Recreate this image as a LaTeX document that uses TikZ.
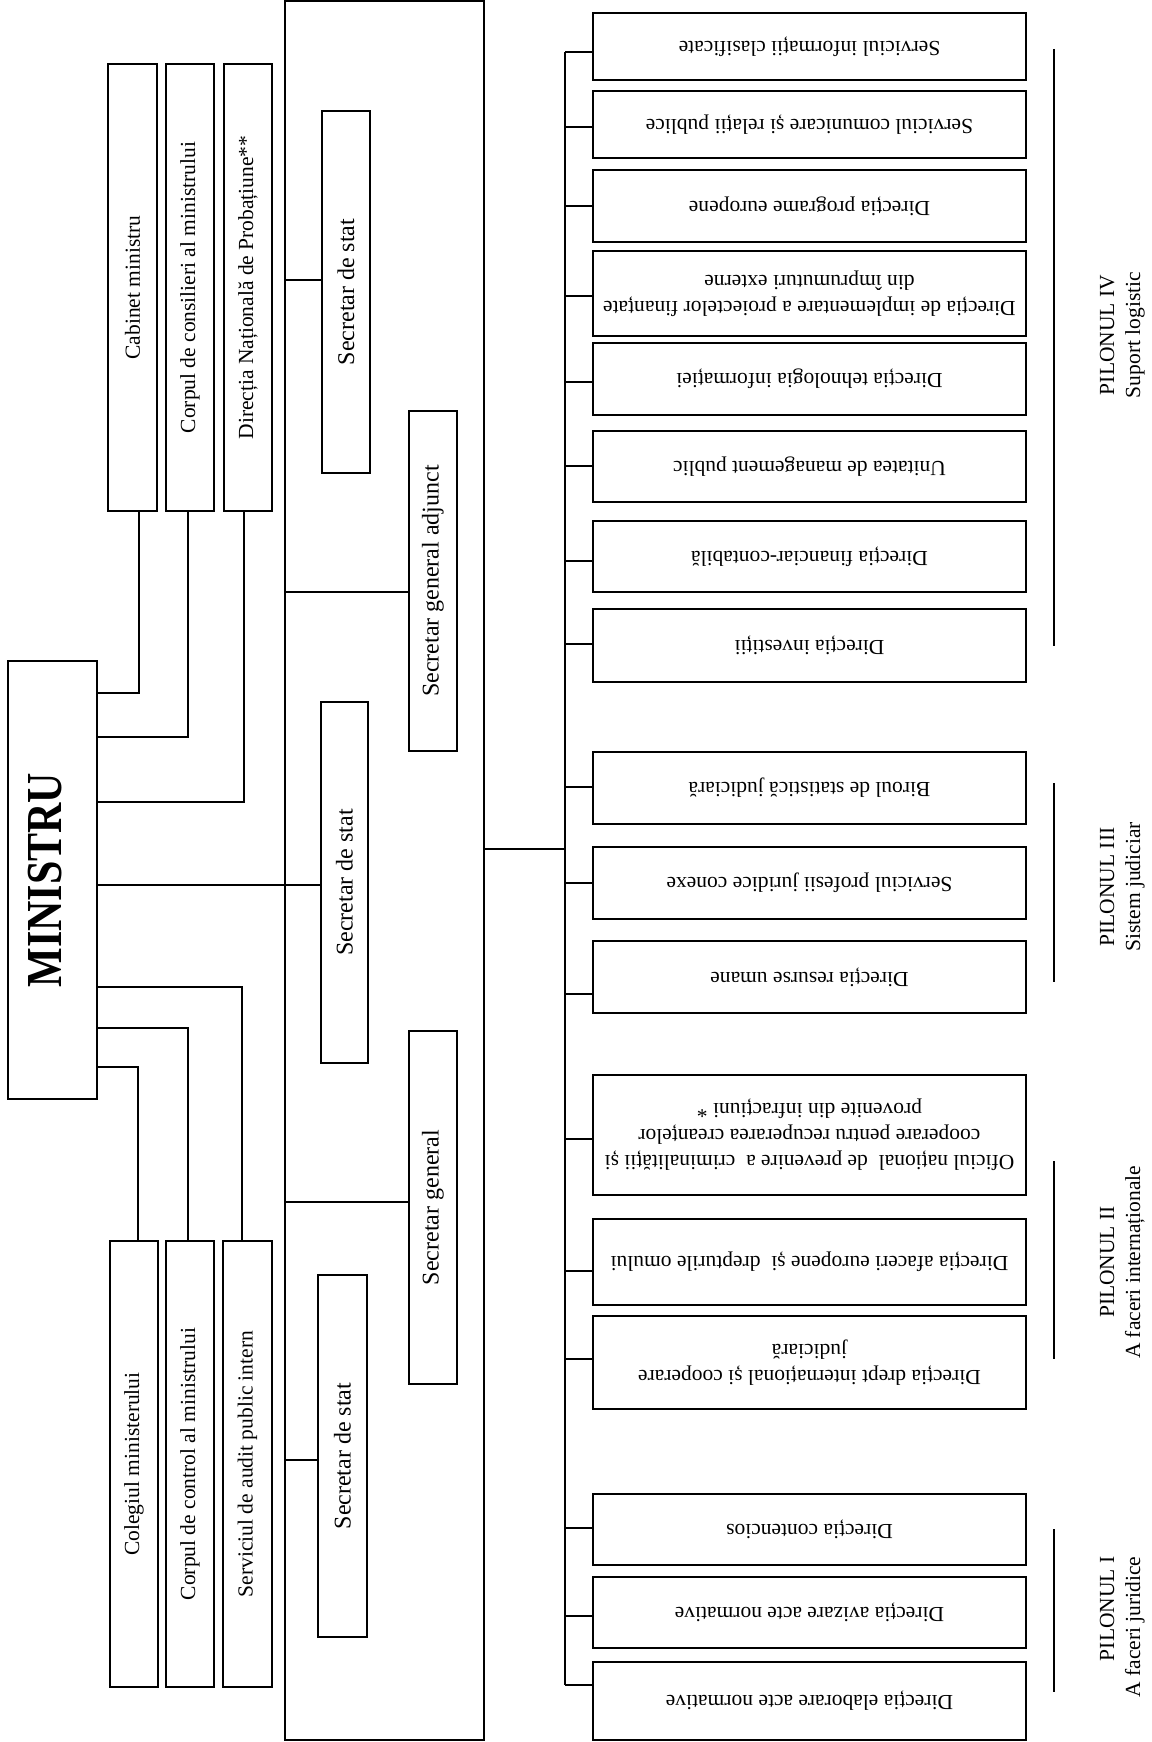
\documentclass[tikz,border=0pt]{standalone}
\usepackage{fontspec}
\setmainfont{Liberation Serif}

\begin{document}
\begin{tikzpicture}[x=1pt, y=-1pt,
    box/.style={draw, line width=1.3pt, inner sep=0pt, font=\fontsize{21.5}{26}\selectfont},
    secbox/.style={box, font=\fontsize{24}{28}\selectfont},
    dirbox/.style={box, minimum width=433},
    link/.style={line width=1.3pt},
    pillar/.style={font=\fontsize{21.5}{26}\selectfont}]
    \useasboundingbox (0,0) rectangle (1151,1742);

    \node [box, minimum width=89, minimum height=438] (min) at (52.5, 880) {\rotatebox{90}{\scalebox{1}[1.2]{\fontsize{42}{50}\selectfont\bfseries MINISTRU}}\hspace*{14pt}};

    \node [box, minimum width=49, minimum height=447] (cab) at (132.5, 287.5) {\rotatebox{90}{Cabinet ministru}};
    \node [box, minimum width=48, minimum height=447] (cons) at (190, 287.5) {\rotatebox{90}{Corpul de consilieri al ministrului}};
    \node [box, minimum width=48, minimum height=447] (dnp) at (248, 287.5) {\rotatebox{90}{Direcția Națională de Probațiune**}};
    \node [box, minimum width=48, minimum height=446] (col) at (134, 1464) {\rotatebox{90}{Colegiul ministerului}};
    \node [box, minimum width=48, minimum height=446] (ctrl) at (190, 1464) {\rotatebox{90}{Corpul de control al ministrului}};
    \node [box, minimum width=49, minimum height=446] (audit) at (247.5, 1464) {\rotatebox{90}{Serviciul de audit public intern}};

    \node [box, minimum width=199, minimum height=1739] (big) at (384.5, 870.5) {};
    \node [secbox, minimum width=48, minimum height=362] (sst) at (346, 292) {\rotatebox{90}{Secretar de stat}};
    \node [secbox, minimum width=48, minimum height=340] (sga) at (433, 581) {\rotatebox{90}{Secretar general adjunct}};
    \node [secbox, minimum width=47, minimum height=361] (ssm) at (344.5, 882.5) {\rotatebox{90}{Secretar de stat}};
    \node [secbox, minimum width=48, minimum height=353] (sg) at (433, 1207.5) {\rotatebox{90}{Secretar general}};
    \node [secbox, minimum width=49, minimum height=362] (ssb) at (342.5, 1456) {\rotatebox{90}{Secretar de stat}};

    \draw [link] (cab.south -| 139,0) |- (min.east |- 0,693);
    \draw [link] (cons.south -| 188,0) |- (min.east |- 0,737);
    \draw [link] (dnp.south -| 244,0) |- (min.east |- 0,802);
    \draw [link] (min.east |- 0,885) -- (ssm.west |- 0,885);
    \draw [link] (audit.north -| 242,0) |- (min.east |- 0,987);
    \draw [link] (ctrl.north -| 188,0) |- (min.east |- 0,1028);
    \draw [link] (col.north -| 138,0) |- (min.east |- 0,1067);

    \draw [link] (big.west |- 0,280) -- (sst.west |- 0,280);
    \draw [link] (big.west |- 0,592) -- (sga.west |- 0,592);
    \draw [link] (big.west |- 0,1202) -- (sg.west |- 0,1202);
    \draw [link] (big.west |- 0,1460) -- (ssb.west |- 0,1460);

    \node [dirbox, minimum height=67] (b1) at (809.5, 46.5) {\rotatebox{180}{Serviciul informații clasificate}};
    \node [dirbox, minimum height=67] (b2) at (809.5, 124.5) {\rotatebox{180}{Serviciul comunicare și relații publice}};
    \node [dirbox, minimum height=72] (b3) at (809.5, 206) {\rotatebox{180}{Direcția programe europene}};
    \node [dirbox, minimum height=85] (b4) at (809.5, 293.5) {\rotatebox{180}{\begin{tabular}{@{}c@{}}Direcția de implementare a proiectelor finanțate\\din împrumuturi externe\end{tabular}}};
    \node [dirbox, minimum height=72] (b5) at (809.5, 379) {\rotatebox{180}{Direcția tehnologia informației}};
    \node [dirbox, minimum height=71] (b6) at (809.5, 466.5) {\rotatebox{180}{Unitatea de management public}};
    \node [dirbox, minimum height=71] (b7) at (809.5, 556.5) {\rotatebox{180}{Direcția financiar-contabilă}};
    \node [dirbox, minimum height=73] (b8) at (809.5, 645.5) {\rotatebox{180}{Direcția investiții}};
    \node [dirbox, minimum height=72] (b9) at (809.5, 788) {\rotatebox{180}{Biroul de statistică judiciară}};
    \node [dirbox, minimum height=72] (b10) at (809.5, 883) {\rotatebox{180}{Serviciul profesii juridice conexe}};
    \node [dirbox, minimum height=72] (b11) at (809.5, 977) {\rotatebox{180}{Direcția resurse umane}};
    \node [dirbox, minimum height=120] (b12) at (809.5, 1135) {\rotatebox{180}{\begin{tabular}{@{}c@{}}Oficiul național\ \ de prevenire a\ \ criminalității și\\cooperare pentru recuperarea creanțelor\\provenite din infracțiuni *\end{tabular}}};
    \node [dirbox, minimum height=86] (b13) at (809.5, 1262) {\rotatebox{180}{Direcția afaceri europene și\ \ drepturile omului}};
    \node [dirbox, minimum height=93] (b14) at (809.5, 1362.5) {\rotatebox{180}{\begin{tabular}{@{}c@{}}Direcția drept internațional și cooperare\\judiciară\end{tabular}}};
    \node [dirbox, minimum height=71] (b15) at (809.5, 1529.5) {\rotatebox{180}{Direcția contencios}};
    \node [dirbox, minimum height=71] (b16) at (809.5, 1612.5) {\rotatebox{180}{Direcția avizare acte normative}};
    \node [dirbox, minimum height=78] (b17) at (809.5, 1701) {\rotatebox{180}{Direcția elaborare acte normative}};

    \coordinate (ttop) at (565, 52);
    \coordinate (tbot) at (565, 1685);
    \draw [link] (ttop) -- (tbot);
    \draw [link] (big.east |- 0,849) -- (ttop |- 0,849);

    \draw [link] (ttop) -- (b1.west |- ttop);
    \draw [link] (ttop |- 0,127) -- (b2.west |- 0,127);
    \draw [link] (ttop |- 0,206) -- (b3.west |- 0,206);
    \draw [link] (ttop |- 0,296) -- (b4.west |- 0,296);
    \draw [link] (ttop |- 0,382) -- (b5.west |- 0,382);
    \draw [link] (ttop |- 0,466) -- (b6.west |- 0,466);
    \draw [link] (ttop |- 0,561) -- (b7.west |- 0,561);
    \draw [link] (ttop |- 0,644) -- (b8.west |- 0,644);
    \draw [link] (ttop |- 0,787) -- (b9.west |- 0,787);
    \draw [link] (ttop |- 0,883) -- (b10.west |- 0,883);
    \draw [link] (ttop |- 0,994) -- (b11.west |- 0,994);
    \draw [link] (ttop |- 0,1139) -- (b12.west |- 0,1139);
    \draw [link] (ttop |- 0,1271) -- (b13.west |- 0,1271);
    \draw [link] (ttop |- 0,1359) -- (b14.west |- 0,1359);
    \draw [link] (ttop |- 0,1528) -- (b15.west |- 0,1528);
    \draw [link] (ttop |- 0,1616) -- (b16.west |- 0,1616);
    \draw [link] (tbot) -- (b17.west |- tbot);

    \draw [link] (1054, 49) -- (1054, 646);
    \draw [link] (1054, 783) -- (1054, 982);
    \draw [link] (1054, 1161) -- (1054, 1359);
    \draw [link] (1054, 1529) -- (1054, 1692);

    \node [pillar] (p4) at (1122, 335) {\rotatebox{90}{\begin{tabular}{@{}c@{}}PILONUL IV\\Suport logistic\end{tabular}}};
    \node [pillar] (p3) at (1122, 887) {\rotatebox{90}{\begin{tabular}{@{}c@{}}PILONUL III\\Sistem judiciar\end{tabular}}};
    \node [pillar] (p2) at (1122, 1262) {\rotatebox{90}{\begin{tabular}{@{}c@{}}PILONUL II\\A\hspace{5pt}faceri internaționale\end{tabular}}};
    \node [pillar, anchor=north] (p1) at (1122, 1553) {\rotatebox{90}{\begin{tabular}{@{}r@{}}PILONUL I\\A\hspace{5pt}faceri juridice\end{tabular}}};

\end{tikzpicture}
\end{document}
